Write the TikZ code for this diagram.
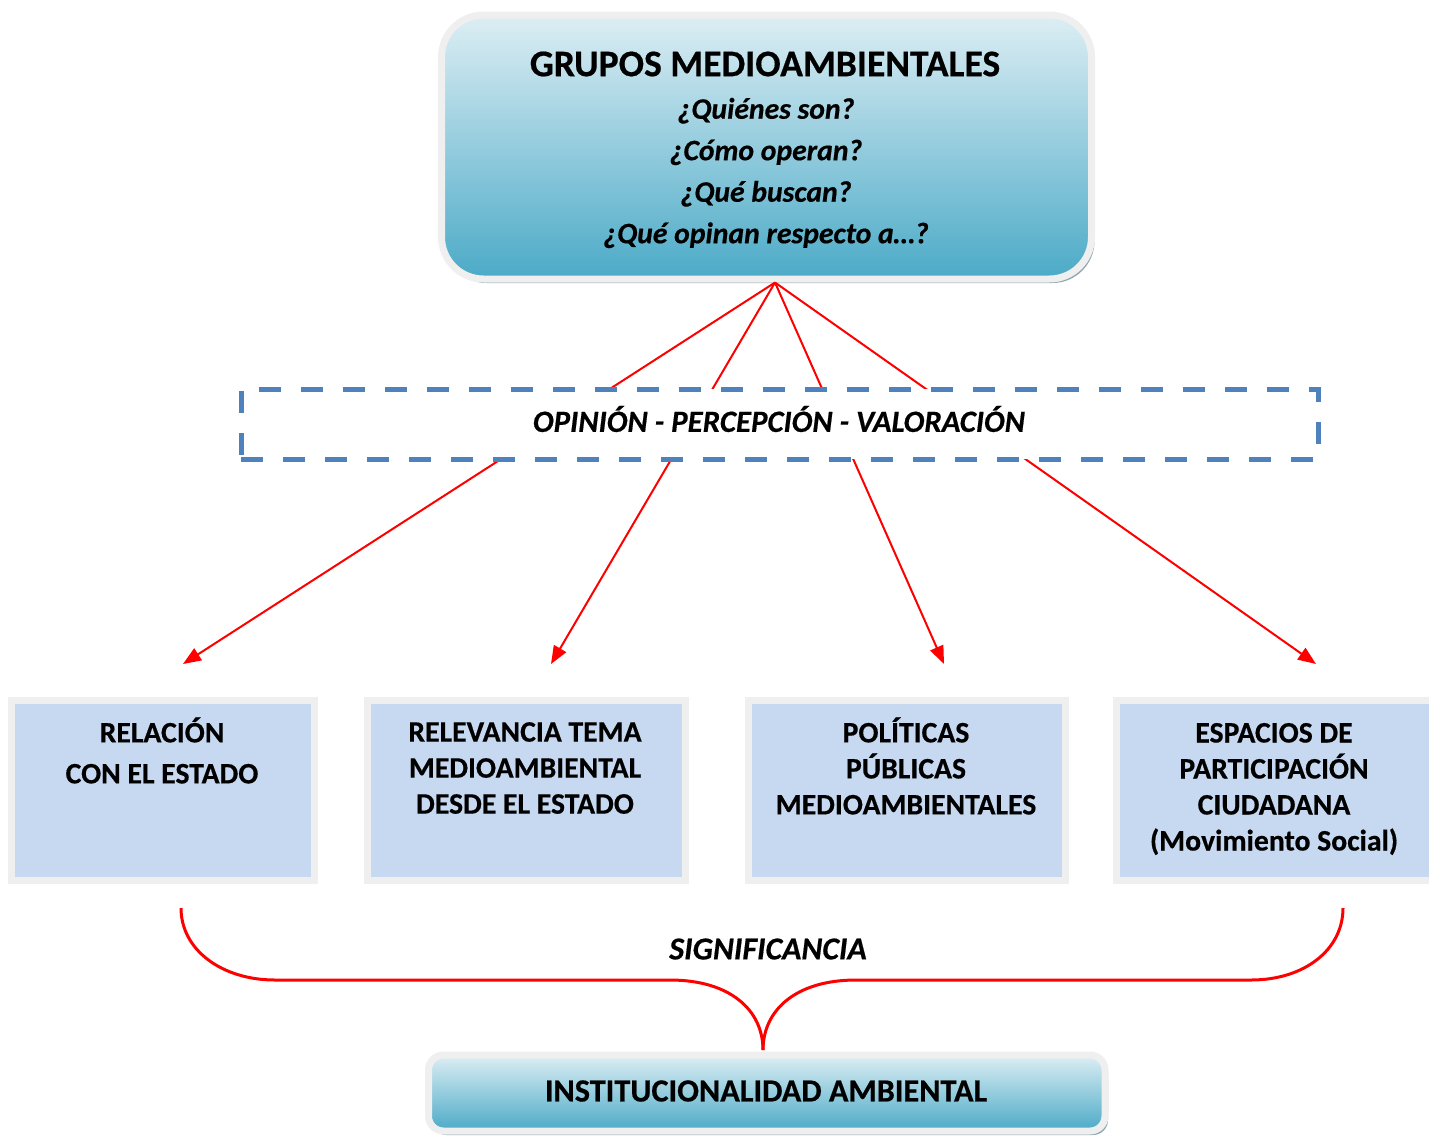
\documentclass[tikz,border=0pt]{standalone}
\usepackage{fontspec}
\setmainfont{Carlito}[BoldFeatures={FakeBold=0.5},BoldItalicFeatures={FakeBold=0.5}]
\usetikzlibrary{arrows.meta,shadows}
\definecolor{topc}{HTML}{DDEEF4}
\definecolor{botc}{HTML}{4BAAC7}
\definecolor{framec}{HTML}{EFEFEF}
\definecolor{shadc}{HTML}{8FA6AE}
\definecolor{boxc}{HTML}{C6D9F1}
\definecolor{dashc}{HTML}{4F81BD}
\definecolor{arrowred}{HTML}{FF0000}
\begin{document}
\begin{tikzpicture}[x=1pt,y=-1pt,
  gradbox/.style={draw=framec, line width=7pt, top color=topc, bottom color=botc, inner sep=0pt,
    drop shadow={shadow xshift=3pt, shadow yshift=-4pt, fill=shadc, opacity=1}},
  bluebox/.style={draw=framec, line width=7pt, fill=boxc, inner sep=0pt, minimum height=180pt,
    drop shadow={shadow xshift=3pt, shadow yshift=-3.5pt, fill=shadc, opacity=1}},
  boxtext/.style={align=center, font=\fontsize{29.7}{36}\selectfont\bfseries, inner sep=0pt},
  redarrow/.style={draw=arrowred, line width=2pt, -{Triangle[length=18pt,width=14pt]}},
  bracestyle/.style={draw=arrowred, line width=3pt},
]
\useasboundingbox (0,0) rectangle (1429,1138);

% top box
\node[gradbox, rounded corners=42pt, minimum width=650pt, minimum height=264pt] (top) at (766.5,147) {};
\node[font=\fontsize{37.6}{40}\selectfont\bfseries, inner sep=0pt] (title) at (765,64) {GRUPOS MEDIOAMBIENTALES};
\node[align=center, font=\fontsize{29.7}{41.5}\selectfont\bfseries\itshape, inner sep=0pt] (quest) at (766,173)
  {¿Quiénes son?\\¿Cómo operan?\\¿Qué buscan?\\¿Qué opinan respecto a…?};
\coordinate (apex) at ([xshift=8.5pt]top.south);

% arrow targets
\coordinate (t1) at (183,664);
\coordinate (t2) at (551,664);
\coordinate (t3) at (944,664);
\coordinate (t4) at (1316,664);
\draw[redarrow] (apex) -- (t1);
\draw[redarrow] (apex) -- (t2);
\draw[redarrow] (apex) -- (t3);
\draw[redarrow] (apex) -- (t4);

% dashed box
\node[draw=dashc, line width=5pt, dash pattern=on 22pt off 20pt, fill=white,
  minimum width=1077pt, minimum height=70pt, inner sep=0pt] (opin) at (779.5,424) {};
\node[font=\fontsize{30.9}{32}\selectfont\bfseries\itshape, inner sep=0pt] (opintext) at (779,419)
  {OPINIÓN - PERCEPCIÓN - VALORACIÓN};

% four boxes
\node[bluebox, minimum width=302.5pt] (b1) at (162.75,790.5) {};
\node[bluebox, minimum width=318.5pt] (b2) at (526.25,790.5) {};
\node[bluebox, minimum width=317pt] (b3) at (907,790.5) {};
\node[bluebox, minimum width=318pt] (b4) at (1275.5,790.5) {};
\node[boxtext, font=\fontsize{29.7}{41}\selectfont\bfseries] (b1t) at (162,750.5) {RELACIÓN\\CON EL ESTADO};
\node[boxtext] (b2t) at (525,768) {RELEVANCIA TEMA\\MEDIOAMBIENTAL\\DESDE EL ESTADO};
\node[boxtext] (b3t) at (906,766) {POLÍTICAS\\PÚBLICAS\\MEDIOAMBIENTALES};
\node[boxtext] (b4t) at (1274,789) {ESPACIOS DE\\PARTICIPACIÓN\\CIUDADANA\\(Movimiento Social)};

% brace
\coordinate (bl) at (181,908);
\coordinate (br) at (1343,908);
\coordinate (bm) at (763,1050);
\draw[bracestyle] (bl) .. controls (181,950) and (222,980) .. (275,980) -- (670,980)
  .. controls (730,980) and (763,1010) .. (bm);
\draw[bracestyle] (br) .. controls (1343,950) and (1304,980) .. (1251,980) -- (856,980)
  .. controls (796,980) and (763,1010) .. (bm);
\node[font=\fontsize{31.9}{34}\selectfont\bfseries\itshape, inner sep=0pt] (sig) at (768,949) {SIGNIFICANCIA};

% bottom box
\node[gradbox, rounded corners=15pt, minimum width=676.5pt, minimum height=76pt] (inst) at (766.75,1093) {};
\node[font=\fontsize{32.3}{34}\selectfont\bfseries, inner sep=0pt] (insttext) at (766,1091) {INSTITUCIONALIDAD AMBIENTAL};
\end{tikzpicture}
\end{document}
